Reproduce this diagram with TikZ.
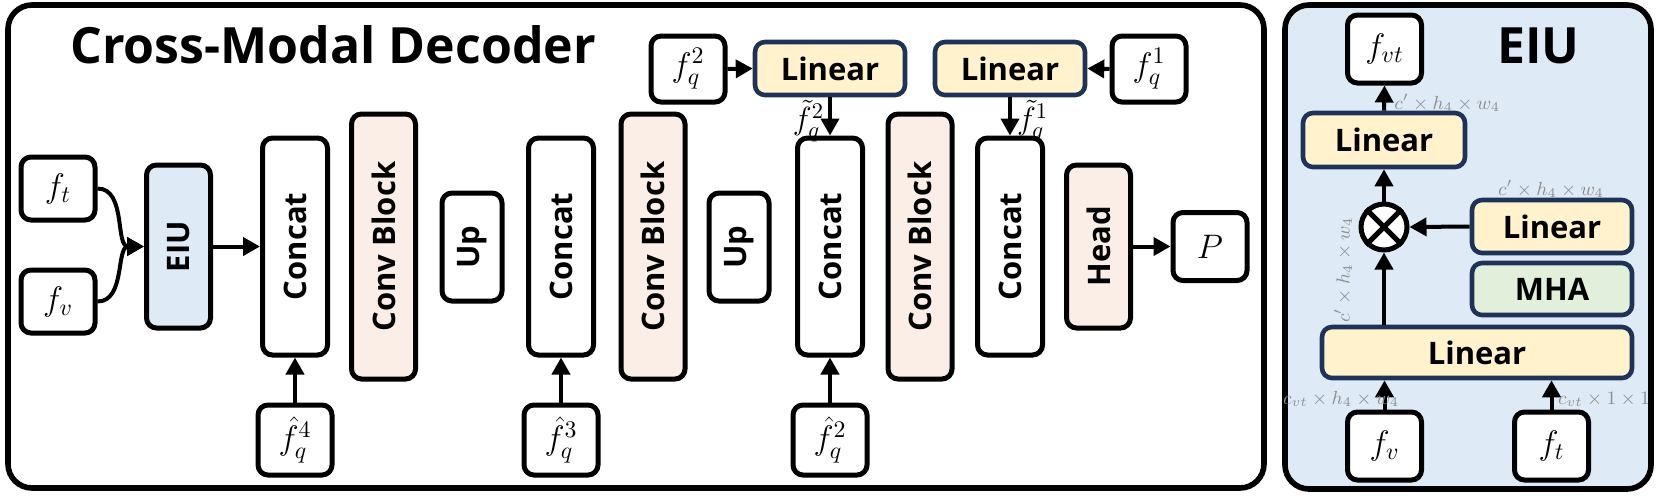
\RequirePackage{fix-cm}
\documentclass[tikz,border=0pt]{standalone}
\usepackage{fontspec}
\setsansfont{Open Sans}
\usetikzlibrary{arrows.meta,positioning}

\definecolor{eiublue}{HTML}{DEEBF7}
\definecolor{convpink}{HTML}{FBEEE6}
\definecolor{linyellow}{HTML}{FFF2CC}
\definecolor{mhagreen}{HTML}{E2EFDA}
\definecolor{navyline}{HTML}{1F3358}
\definecolor{dimlabel}{HTML}{8E8E8E}

\tikzset{
  blk/.style={draw=black, line width=2.5pt, rounded corners=5pt, fill=white, inner sep=0pt,
              font=\sffamily\bfseries\fontsize{15.5}{18}\selectfont},
  fbox/.style={blk, minimum width=37pt, minimum height=34pt, font=\fontsize{17}{19}\selectfont},
  catbox/.style={blk, minimum width=32.5pt, minimum height=108.5pt},
  convbox/.style={blk, fill=convpink, minimum width=32pt, minimum height=132.5pt},
  upbox/.style={blk, minimum width=30pt, minimum height=54pt},
  linbox/.style={blk, draw=navyline, line width=2.3pt, fill=linyellow},
  dimtext/.style={text=dimlabel, inner sep=0pt, font=\fontsize{9.5}{11}\selectfont},
  arr/.style={-{Triangle[length=8.5pt,width=9pt]}, line width=2pt},
}

\begin{document}
\begin{tikzpicture}[x=0.5pt, y=-0.5pt]
    \useasboundingbox (0,0) rectangle (1661,495);

    % decoder panel
    \draw[line width=2.8pt, rounded corners=12pt] (8,5) rectangle (1264,488);
    \node[anchor=base west, inner sep=0pt, font=\sffamily\bfseries\fontsize{25}{29}\selectfont] (dectitle) at (70,63) {Cross-Modal Decoder};

    \node[fbox, minimum height=31.5pt] (ft) at (58,188.5) {$f_t$};
    \node[fbox, minimum height=31.5pt] (fv) at (58,301.5) {$f_v$};
    \node[blk, fill=eiublue, minimum width=32pt, minimum height=81.5pt] (eiu) at (178.5,246.5) {\rotatebox{90}{EIU}};

    \node[catbox] (cat1) at (295,246.5) {\rotatebox{90}{Concat}};
    \node[convbox] (conv1) at (383.5,246.5) {\rotatebox{90}{Conv Block}};
    \node[upbox] (up1) at (472,247) {\rotatebox{90}{Up}};
    \node[catbox] (cat2) at (561,246.5) {\rotatebox{90}{Concat}};
    \node[convbox] (conv2) at (653,246.5) {\rotatebox{90}{Conv Block}};
    \node[upbox] (up2) at (739,247) {\rotatebox{90}{Up}};
    \node[catbox] (cat3) at (830,246.5) {\rotatebox{90}{Concat}};
    \node[convbox] (conv3) at (920,246.5) {\rotatebox{90}{Conv Block}};
    \node[catbox] (cat4) at (1010,246.5) {\rotatebox{90}{Concat}};
    \node[blk, fill=convpink, minimum width=32pt, minimum height=81.5pt] (head) at (1098.5,246.5) {\rotatebox{90}{Head}};
    \node[fbox] (pout) at (1210,246.5) {$P$};

    \node[fbox, minimum height=35pt] (fh4) at (295,440) {$\hat{f}_q^4$};
    \node[fbox, minimum height=35pt] (fh3) at (561,440) {$\hat{f}_q^3$};
    \node[fbox, minimum height=35pt] (fh2) at (830,440) {$\hat{f}_q^2$};

    \node[fbox, minimum height=33pt] (fq2) at (688,69) {$f_q^2$};
    \node[linbox, minimum width=75pt, minimum height=26.5pt] (lin1) at (830,68.5) {Linear};
    \node[linbox, minimum width=75pt, minimum height=26.5pt] (lin2) at (1010,68.5) {Linear};
    \node[fbox, minimum height=33pt] (fq1) at (1149,69) {$f_q^1$};

    \draw[arr] (ft.east) to[out=0, in=180] (eiu.west);
    \draw[arr] (fv.east) to[out=0, in=180] (eiu.west);
    \draw[arr] (eiu.east) -- (cat1.west |- eiu.east);
    \draw[arr] (fh4.north) -- (cat1.south);
    \draw[arr] (fh3.north) -- (cat2.south);
    \draw[arr] (fh2.north) -- (cat3.south);
    \draw[arr] (fq2.east) -- (lin1.west);
    \draw[arr] (fq1.west) -- (lin2.east);
    \draw[arr] (lin1.south) -- (cat3.north) node[pos=0.62, left=2pt, font=\fontsize{16}{18}\selectfont, inner sep=0pt] (tq2) {$\tilde{f}_q^2$};
    \draw[arr] (lin2.south) -- (cat4.north) node[pos=0.62, right=2.5pt, font=\fontsize{16}{18}\selectfont, inner sep=0pt] (tq1) {$\tilde{f}_q^1$};
    \draw[arr] (head.east) -- (pout.west);

    % EIU panel
    \draw[line width=2.8pt, rounded corners=12pt, fill=eiublue] (1285,5) rectangle (1651,489);
    \node[anchor=base west, inner sep=0pt, font=\sffamily\bfseries\fontsize{25}{29}\selectfont] (eiutitle) at (1497,63) {EIU};

    \node[fbox] (fvt) at (1384.5,49) {$f_{vt}$};
    \node[linbox, minimum width=81pt, minimum height=27pt] (lintop) at (1384,140) {Linear};
    \node[circle, draw, line width=2.5pt, fill=white, minimum size=23pt, inner sep=0pt] (mul) at (1384,227) {};
    \draw[line width=2.5pt] (mul.north west) -- (mul.south east) (mul.north east) -- (mul.south west);
    \node[linbox, minimum width=80pt, minimum height=26.5pt] (linr) at (1552,226.5) {Linear};
    \node[linbox, fill=mhagreen, minimum width=80pt, minimum height=26pt] (mha) at (1552,289) {MHA};
    \node[linbox, minimum width=155pt, minimum height=25.5pt] (linbot) at (1477,352.5) {Linear};
    \node[fbox] (fv2) at (1384.5,446) {$f_v$};
    \node[fbox] (ft2) at (1551.5,446) {$f_t$};

    \draw[arr] (fv2.north) -- (fv2.north |- linbot.south);
    \draw[arr] (ft2.north) -- (ft2.north |- linbot.south);
    \draw[arr] (mul.south |- linbot.north) -- (mul.south);
    \draw[arr] (linr.west) -- (mul.east);
    \draw[arr] (mul.north) -- (lintop.south);
    \draw[arr] (lintop.north) -- (fvt.south);

    \node[dimtext, anchor=west] (dimtop) at (1394,103) {$c'\times h_4\times w_4$};
    \node[dimtext] (dimright) at (1551,189) {$c'\times h_4\times w_4$};
    \node[dimtext, rotate=90] (dimleft) at (1343,270) {$c'\times h_4\times w_4$};
    \node[dimtext] (dimfv) at (1341,399) {$c_{vt}\times h_4\times w_4$};
    \node[dimtext] (dimft) at (1604,399) {$c_{vt}\times 1\times 1$};
\end{tikzpicture}
\end{document}
